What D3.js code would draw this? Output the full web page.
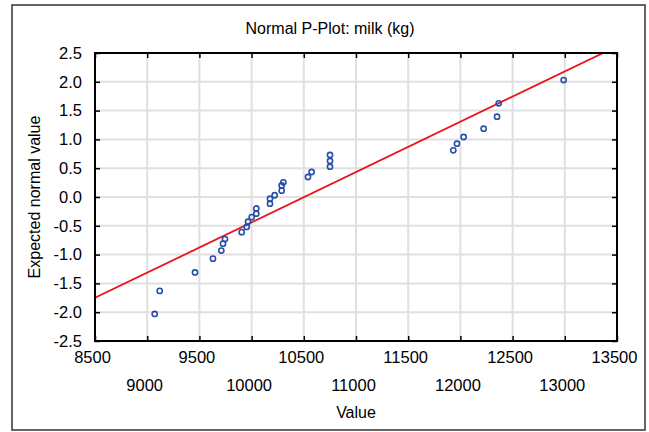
<!DOCTYPE html>
<html><head><meta charset="utf-8">
<script src="https://cdn.jsdelivr.net/npm/d3@7"></script>
<style>body{margin:0;background:#fff}svg{display:block;font-family:"Liberation Sans",Arial,sans-serif}</style>
</head><body><svg id="c" width="649" height="432"></svg>
<script>
const title = "Normal P-Plot: milk (kg)";
const xTitle = "Value";
const yTitle = "Expected normal value";
const xTicks = [8500, 9000, 9500, 10000, 10500, 11000, 11500, 12000, 12500, 13000, 13500];
const yTicks = [-2.5, -2.0, -1.5, -1.0, -0.5, 0.0, 0.5, 1.0, 1.5, 2.0, 2.5];
const values = [9072, 9120, 9458, 9630, 9710, 9726, 9745, 9905, 9953, 9966, 10001, 10045, 10045, 10176, 10176, 10221, 10288, 10288, 10304, 10540, 10575, 10751, 10751, 10751, 11932, 11967, 12031, 12223, 12351, 12367, 12989];
const expected = [-2.03, -1.63, -1.31, -1.07, -0.93, -0.81, -0.73, -0.61, -0.52, -0.43, -0.35, -0.29, -0.20, -0.116, -0.03, 0.03, 0.11, 0.20, 0.255, 0.347, 0.434, 0.526, 0.625, 0.729, 0.81, 0.925, 1.042, 1.186, 1.394, 1.627, 2.03];
const fitMean = 10504, fitSd = 1145;

const svg = d3.select("#c");
const L = 95, R = 617, T = 53, B = 341;
const x = d3.scaleLinear().domain([8500, 13500]).range([L, R]);
const y = d3.scaleLinear().domain([-2.5, 2.5]).range([B, T]);
const fmtY = d => d3.format(".1f")(d).replace("\u2212", "-");

// outer frame
svg.append("rect").attr("x", 12).attr("y", 5).attr("width", 633).attr("height", 425)
  .attr("fill", "none").attr("stroke", "#333").attr("stroke-width", 1.5);

svg.append("text").attr("x", 330).attr("y", 34).attr("text-anchor", "middle")
  .attr("font-size", 16).text(title);

// grid
const g = svg.append("g");
g.selectAll(".gx").data(xTicks).join("line")
  .attr("x1", d => x(d)).attr("x2", d => x(d)).attr("y1", T).attr("y2", B)
  .attr("stroke", "#e0e0e0").attr("stroke-width", 2);
g.selectAll(".gy").data(yTicks).join("line")
  .attr("y1", d => y(d)).attr("y2", d => y(d)).attr("x1", L).attr("x2", R)
  .attr("stroke", "#e0e0e0").attr("stroke-width", 2);

// clip
svg.append("clipPath").attr("id", "clip").append("rect")
  .attr("x", L).attr("y", T).attr("width", R - L).attr("height", B - T);

// fit line
const zAt = v => (v - fitMean) / fitSd;
svg.append("line").attr("clip-path", "url(#clip)")
  .attr("x1", x(8500)).attr("y1", y(zAt(8500)))
  .attr("x2", x(13500)).attr("y2", y(zAt(13500)))
  .attr("stroke", "#e8141c").attr("stroke-width", 1.8);

// points
svg.append("g").selectAll("circle").data(values).join("circle")
  .attr("cx", d => x(d)).attr("cy", (d, i) => y(expected[i])).attr("r", 2.6)
  .attr("fill", "none").attr("stroke", "#2a4fa8").attr("stroke-width", 1.6);

// axes with inner ticks
const axB = svg.append("g").attr("transform", `translate(0,${B})`)
  .call(d3.axisBottom(x).tickValues(xTicks).tickSizeInner(-5).tickSizeOuter(0).tickFormat(d3.format("d")).tickPadding(10));
axB.selectAll("text").attr("dy", (d, i) => i % 2 ? "2.45em" : "0.71em").attr("dx", -3);
const axT = svg.append("g").attr("transform", `translate(0,${T})`)
  .call(d3.axisTop(x).tickValues(xTicks).tickSizeInner(-5).tickSizeOuter(0).tickFormat(""));
const axL = svg.append("g").attr("transform", `translate(${L},0)`)
  .call(d3.axisLeft(y).tickValues(yTicks).tickSizeInner(-5).tickSizeOuter(0).tickFormat(fmtY).tickPadding(13));
const axR = svg.append("g").attr("transform", `translate(${R},0)`)
  .call(d3.axisRight(y).tickValues(yTicks).tickSizeInner(-5).tickSizeOuter(0).tickFormat(""));
[axB, axT, axL, axR].forEach(a => {
  a.select(".domain").remove();
  a.selectAll("line").attr("stroke", "#000").attr("stroke-width", 1.5);
  a.selectAll("text").attr("font-size", 16.5).attr("fill", "#000").attr("font-family", "Liberation Sans, Arial, sans-serif");
});

svg.append("rect").attr("x", L).attr("y", T).attr("width", R - L).attr("height", B - T)
  .attr("fill", "none").attr("stroke", "#000").attr("stroke-width", 2);

svg.append("text").attr("x", (L + R) / 2).attr("y", 418).attr("text-anchor", "middle")
  .attr("font-size", 16).text(xTitle);
svg.append("text").attr("transform", `translate(40,${(T + B) / 2}) rotate(-90)`)
  .attr("text-anchor", "middle").attr("font-size", 16).text(yTitle);
</script></body></html>
